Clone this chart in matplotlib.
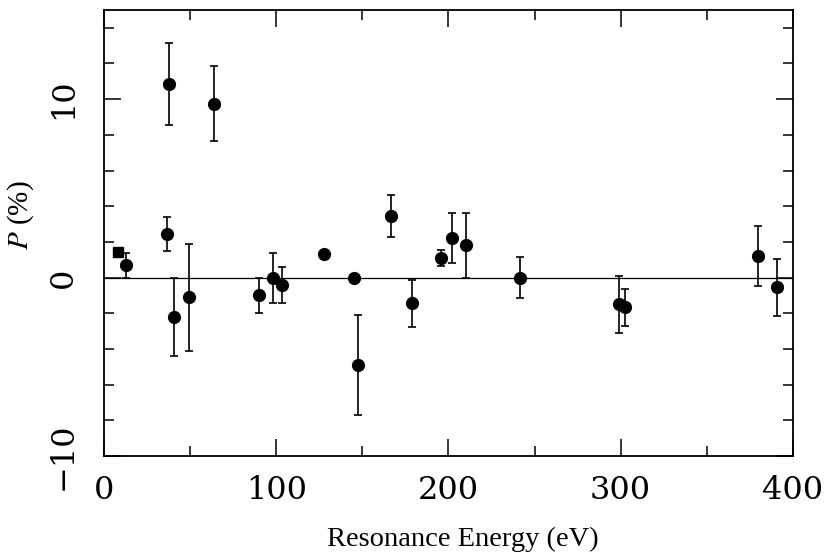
import matplotlib
matplotlib.use("Agg")
import matplotlib.pyplot as plt
from matplotlib.ticker import MultipleLocator

plt.rcParams['font.family'] = ['Liberation Serif', 'DejaVu Serif']
plt.rcParams['mathtext.fontset'] = 'stix'

# square point (no visible error bar)
sq_energy = [8.1]
sq_p = [1.45]

# circle points
energy = [12.8, 37.7, 64.0, 36.8, 40.6, 49.5, 90.0, 97.9, 103.5, 127.7, 145.0,
          147.6, 166.6, 178.6, 195.4, 201.8, 210.2, 241.5, 299.2, 302.5, 379.9, 391.0]
p_val = [0.7, 10.85, 9.75, 2.45, -2.2, -1.1, -1.0, 0.0, -0.42, 1.3, 0.0,
         -4.9, 3.45, -1.45, 1.1, 2.2, 1.8, 0.0, -1.5, -1.67, 1.2, -0.55]
p_err = [0.7, 2.3, 2.1, 0.95, 2.2, 3.0, 1.0, 1.4, 1.03, 0.0, 0.0,
         2.8, 1.2, 1.3, 0.45, 1.4, 1.8, 1.17, 1.6, 1.03, 1.7, 1.6]

x_ticks = [0, 100, 200, 300, 400]
y_ticks = [-10, 0, 10]
y_tick_labels = ["\u221210", "0", "10"]

fig = plt.figure(figsize=(8.28, 5.52), dpi=100)
ax = fig.add_axes([0.1256, 0.174, 0.832, 0.808])

ax.axhline(0, color='black', lw=0.9, zorder=1)
ax.errorbar(energy, p_val, yerr=p_err, fmt='o', color='black', ms=8.5,
            ecolor='black', elinewidth=1.2, capsize=3, capthick=1.2, zorder=3)
ax.plot(sq_energy, sq_p, 's', color='black', ms=7.5, zorder=3)

ax.set_xlim(0, 400)
ax.set_ylim(-10, 15)
ax.set_xticks(x_ticks)
ax.set_yticks(y_ticks)
ax.set_yticklabels(y_tick_labels, rotation=90, va='center')
ax.xaxis.set_minor_locator(MultipleLocator(50))
ax.yaxis.set_minor_locator(MultipleLocator(2))

ax.tick_params(which='both', direction='in', top=True, right=True, width=1.1)
ax.tick_params(which='major', length=12, labelsize=23, pad=14)
ax.tick_params(which='minor', length=7)
ax.tick_params(axis='y', pad=18)
for lbl in ax.get_xticklabels() + ax.get_yticklabels():
    lbl.set_family(['DejaVu Serif'])
for s in ax.spines.values():
    s.set_linewidth(1.3)

ax.set_xlabel("Resonance Energy (eV)", fontsize=20.5)
ax.xaxis.set_label_coords(0.521, -0.16)
ax.set_ylabel("$P$ (%)", fontsize=21)
ax.yaxis.set_label_coords(-0.099, 0.539)

fig.savefig("out.png", dpi=100)
